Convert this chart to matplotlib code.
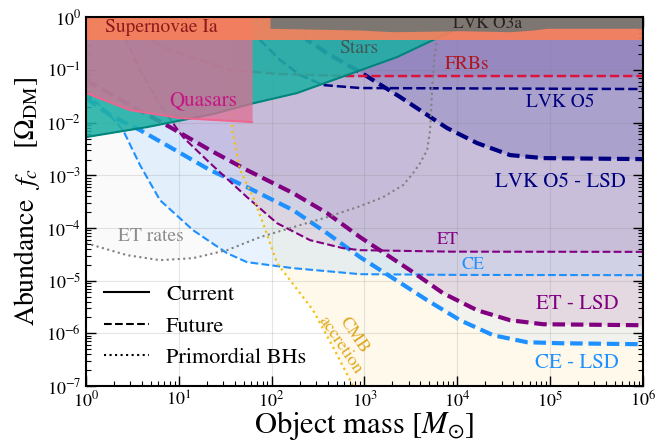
import numpy as np
import matplotlib.pyplot as plt
from matplotlib.lines import Line2D

plt.rcParams['font.family'] = 'STIXGeneral'
plt.rcParams['mathtext.fontset'] = 'stix'

# all curves as (log10 mass, log10 abundance)
ce_lm = [0, 0.205, 0.399, 0.582, 0.797, 1.153, 1.519, 1.735, 2.231, 2.953, 4.0, 6.0]
ce_lf = [-1.435, -1.759, -2.139, -2.804, -3.470, -4.040, -4.477, -4.648, -4.762, -4.876, -4.89, -4.895]

ce_lsd_lm = [0, 0.259, 0.582, 0.905, 1.336, 1.735, 2.231, 2.597, 2.953, 3.459, 3.675, 4.030, 4.386, 4.752, 5.108, 6.0]
ce_lsd_lf = [-1.530, -1.854, -2.139, -2.462, -2.899, -3.222, -3.660, -4.097, -4.553, -5.124, -5.371, -5.751, -6.036, -6.169, -6.188, -6.207]

et_lm = [0.313, 0.582, 0.797, 1.045, 1.336, 1.735, 2.058, 2.414, 2.769, 2.953, 3.922, 6.0]
et_lf = [0, -0.998, -1.663, -2.272, -2.766, -3.413, -3.907, -4.230, -4.382, -4.420, -4.448, -4.452]

et_lsd_lm = [0, 0.474, 0.905, 1.336, 1.735, 2.231, 2.597, 2.953, 3.491, 3.847, 4.213, 4.569, 4.925, 6.0]
et_lsd_lf = [-1.188, -1.663, -2.082, -2.519, -2.899, -3.337, -3.717, -4.173, -4.800, -5.238, -5.561, -5.751, -5.827, -5.846]

lvk_lm = [1.713, 1.875, 2.091, 2.306, 2.554, 2.953, 6.0]
lvk_lf = [0, -0.428, -0.808, -1.093, -1.283, -1.340, -1.359]

lvk_lsd_lm = [2.252, 2.381, 2.629, 2.953, 3.384, 3.890, 4.213, 4.569, 4.925, 6.0]
lvk_lsd_lf = [0, -0.428, -0.713, -1.036, -1.511, -2.101, -2.386, -2.614, -2.671, -2.690]

frb_lm = [0.366, 0.582, 0.905, 1.228, 1.552, 2.091, 2.813, 6.0]
frb_lf = [0, -0.333, -0.618, -0.808, -0.998, -1.074, -1.112, -1.112]

stars_lm = [0, 0.657, 1.369, 1.767, 2.274, 2.813, 3.351, 3.739, 4.25]
stars_lf = [-2.272, -2.082, -1.835, -1.644, -1.435, -1.093, -0.751, -0.428, 0]

quasar_lm = [0, 0.474, 1.013, 1.789]
quasar_lf = [-1.435, -1.759, -1.911, -1.987]

o3a_lm = [1.983, 2.953, 3.308, 4.030, 4.569, 4.817, 4.968, 6.0]
o3a_lf = [-0.205, -0.238, -0.270, -0.251, -0.270, -0.238, -0.205, -0.205]
sn_f = 0.37

etrates_lm = [0, 0.442, 0.797, 1.153, 1.519, 1.875, 2.231, 2.597, 2.953, 3.200, 3.416, 3.524,
              3.599, 3.675, 3.707, 3.728, 3.750, 3.782, 3.793]
etrates_lf = [-4.287, -4.515, -4.610, -4.572, -4.420, -4.173, -3.983, -3.793, -3.584, -3.413, -3.184, -2.956,
              -2.766, -2.519, -2.139, -1.378, -0.808, -0.428, 0]

cmb_lm = [1.573, 1.573, 1.659, 1.800, 1.907, 2.058, 2.198, 2.446, 2.662, 2.845, 2.877]
cmb_lf = [-1.816, -2.139, -2.899, -3.413, -3.907, -4.667, -4.990, -5.561, -6.264, -6.890, -7.005]


def pts(lm, lf):
    return 10**np.array(lm), 10**np.array(lf)


fig = plt.figure(figsize=(6.68, 4.43), dpi=100)
ax = fig.add_axes([0.1287, 0.1287, 0.8339, 0.8318])
ax.set_xscale('log')
ax.set_yscale('log')
ax.set_xlim(1, 1e6)
ax.set_ylim(1e-7, 1)

# excluded / projected regions (filled above each curve)
m, f = pts(etrates_lm, etrates_lf)
ax.fill_between(m, f, 1, color='gray', alpha=0.04, lw=0, zorder=1)
m, f = pts(cmb_lm, cmb_lf)
poly_m = list(m) + [1e7, 1e7, m[0]]
poly_f = list(f) + [1e-8, 10, 10]
ax.fill(poly_m, poly_f, color='#fff3d6', alpha=0.45, lw=0, zorder=1)
m, f = pts(ce_lsd_lm, ce_lsd_lf)
ax.fill_between(m, f, 1, color='dodgerblue', alpha=0.06, lw=0, zorder=1)
m, f = pts(et_lsd_lm, et_lsd_lf)
ax.fill_between(m, f, 1, color='purple', alpha=0.1, lw=0, zorder=1)
m, f = pts(ce_lm, ce_lf)
ax.fill_between(m, f, 1, color='dodgerblue', alpha=0.1, lw=0, zorder=1)
m, f = pts(et_lm, et_lf)
ax.fill_between(m, f, 1, color='purple', alpha=0.09, lw=0, zorder=1)
m, f = pts(lvk_lsd_lm, lvk_lsd_lf)
ax.fill_between(m, f, 1, color='navy', alpha=0.15, lw=0, zorder=1)
m, f = pts(lvk_lm, lvk_lf)
ax.fill_between(m, f, 1, color='navy', alpha=0.06, lw=0, zorder=1)
m, f = pts(frb_lm, frb_lf)
ax.fill_between(m, f, 1, color='rebeccapurple', alpha=0.15, lw=0, zorder=1)

# future sensitivity curves
thin = dict(ls='--', lw=1.5, zorder=3)
thick = dict(ls=(0, (3.0, 1.4)), lw=3, zorder=3)
ax.plot(*pts(ce_lm, ce_lf), color='dodgerblue', **thin)
ax.plot(*pts(ce_lsd_lm, ce_lsd_lf), color='dodgerblue', **thick)
ax.plot(*pts(et_lm, et_lf), color='purple', **thin)
ax.plot(*pts(et_lsd_lm, et_lsd_lf), color='purple', **thick)
ax.plot(*pts(lvk_lm, lvk_lf), color='navy', ls='--', lw=1.8, zorder=3)
ax.plot(*pts(lvk_lsd_lm, lvk_lsd_lf), color='navy', **thick)
ax.plot(*pts(frb_lm, frb_lf), color='crimson', ls='--', lw=1.8, zorder=3)

# primordial BH curves
ax.plot(*pts(etrates_lm, etrates_lf), color='gray', ls=':', lw=1.5, zorder=3)
ax.plot(*pts(cmb_lm, cmb_lf), color='#f2c012', ls=':', lw=1.6, zorder=3)

# current constraints
m, f = pts(stars_lm, stars_lf)
ax.fill_between(m, f, 1, color='#1fb0a4', alpha=0.88, lw=0, zorder=4)
ax.plot(m, f, color='#00857c', lw=1.5, zorder=4.05)
m, f = pts(quasar_lm, quasar_lf)
ax.fill_between(m, f, 1, color='#dd6f93', alpha=0.75, lw=0, zorder=4.1)
ax.plot(m, f, color='#f0648f', lw=1.4, zorder=4.15)
ax.axhspan(sn_f, 1, color='#f7805a', alpha=0.92, lw=0, zorder=4.2)
m, f = pts(o3a_lm, o3a_lf)
ax.fill_between(m, f, 1, color='#7a7672', alpha=0.97, lw=0, zorder=4.3)

ax.grid(True, which='major', color='gray', alpha=0.2, lw=0.8, zorder=5)

labels = [
    ('Supernovae Ia', 0.808, -0.181, '#8b1a1a', 14),
    ('LVK O3a', 4.321, -0.124, '#2a2222', 12.5),
    ('Stars', 2.942, -0.580, '#405a58', 14),
    ('FRBs', 4.106, -0.884, '#b0141e', 14),
    ('Quasars', 1.261, -1.568, '#c71585', 15),
    ('LVK O5', 5.108, -1.606, 'navy', 14),
    ('LVK O5 - LSD', 5.108, -3.127, 'navy', 15),
    ('ET', 3.901, -4.230, 'purple', 13),
    ('CE', 4.170, -4.705, 'dodgerblue', 13),
    ('ET - LSD', 5.291, -5.447, 'purple', 15),
    ('CE - LSD', 5.291, -6.568, 'dodgerblue', 15),
    ('ET rates', 0.700, -4.154, '#8c8c8c', 14),
]
for txt, lx, ly, col, fs in labels:
    ax.text(10**lx, 10**ly, txt, color=col, fontsize=fs, ha='center', va='center', zorder=6)
ax.text(10**2.812, 10**-6.131, 'CMB\naccretion', color='#dfa820', fontsize=13,
        rotation=-56, ha='center', va='center', linespacing=1.0, zorder=6)

handles = [Line2D([], [], color='k', ls='-', lw=1.5),
           Line2D([], [], color='k', ls='--', lw=1.5),
           Line2D([], [], color='k', ls=':', lw=1.5)]
ax.legend(handles, ['Current', 'Future', 'Primordial BHs'], loc='lower left', frameon=False,
          fontsize=16, handlelength=2.05, handletextpad=0.75, labelspacing=0.5,
          borderaxespad=0.4)

ax.set_xlabel(r'Object mass $[M_{\odot}]$', fontsize=22, labelpad=-1)
ax.set_ylabel(r'Abundance  $f_c$  $\;[\Omega_{\rm DM}]$', fontsize=20, labelpad=3)

ax.tick_params(which='both', direction='in', top=True, right=True, labelsize=13)
ax.tick_params(which='major', length=7, width=1)
ax.tick_params(which='minor', length=3.5, width=0.8)
ax.xaxis.set_major_locator(plt.LogLocator(base=10, numticks=10))
ax.yaxis.set_major_locator(plt.LogLocator(base=10, numticks=10))
ax.xaxis.set_minor_locator(plt.LogLocator(base=10, subs=np.arange(2, 10), numticks=100))
ax.yaxis.set_minor_locator(plt.LogLocator(base=10, subs=np.arange(2, 10), numticks=100))
for s in ax.spines.values():
    s.set_linewidth(1.5)
    s.set_zorder(7)

plt.savefig('out.png', dpi=100)
